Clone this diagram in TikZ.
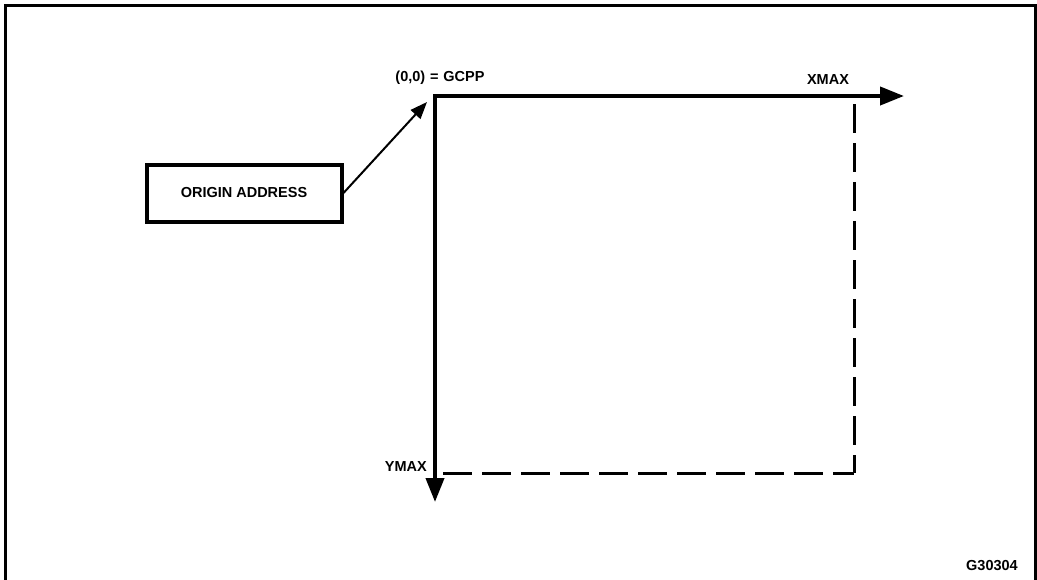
\documentclass[tikz,border=0pt]{standalone}
\usepackage{fontspec}
\setmainfont{Liberation Sans}
\usetikzlibrary{arrows.meta}
\begin{document}
\begin{tikzpicture}[x=1pt,y=-1pt,
  lbl/.style={font=\fontsize{14.5}{16}\selectfont\bfseries, inner sep=0pt},
  axis/.style={line width=4pt, -{Triangle[length=24pt,width=18pt]}},
  dashline/.style={line width=3pt, dash pattern=on 29pt off 10pt},
  frameline/.style={line width=3pt},
  boxstyle/.style={draw, line width=4pt, minimum width=195pt, minimum height=57pt, inner sep=0pt}]
\useasboundingbox (0,0) rectangle (1037,579);
% frame
\draw[frameline] (5.5,580) -- (5.5,5.5) -- (1035.5,5.5) -- (1035.5,580);
% axes
\coordinate (O) at (435,96);
\coordinate (XE) at (904,96);
\coordinate (YE) at (435,502);
\coordinate (C) at (854,473);
\draw[axis] ([xshift=-2pt]O) -- (XE);
\draw[axis] ([yshift=-2pt]O) -- (YE);
% dashed extent
\coordinate (RT) at (854,104);
\coordinate (BL) at (443,473);
\draw[dashline] (RT) -- (C);
\draw[dashline] (BL) -- (C);
% origin box
\node[boxstyle, lbl] (box) at (244,193) {ORIGIN ADDRESS};
\coordinate (tip) at (427,102);
\draw[line width=2pt, -{Triangle[length=17pt,width=13pt]}] (box.east) -- (tip);
% labels
\node[lbl] (org) at (440,78) {(0,0)\,\,=\,\,GCPP};
\node[lbl] (xmax) at (828,80) {XMAX};
\node[lbl, anchor=east] (ymax) at (427,467) {YMAX};
\node[lbl] (fig) at (992,566) {G30304};
\end{tikzpicture}
\end{document}
